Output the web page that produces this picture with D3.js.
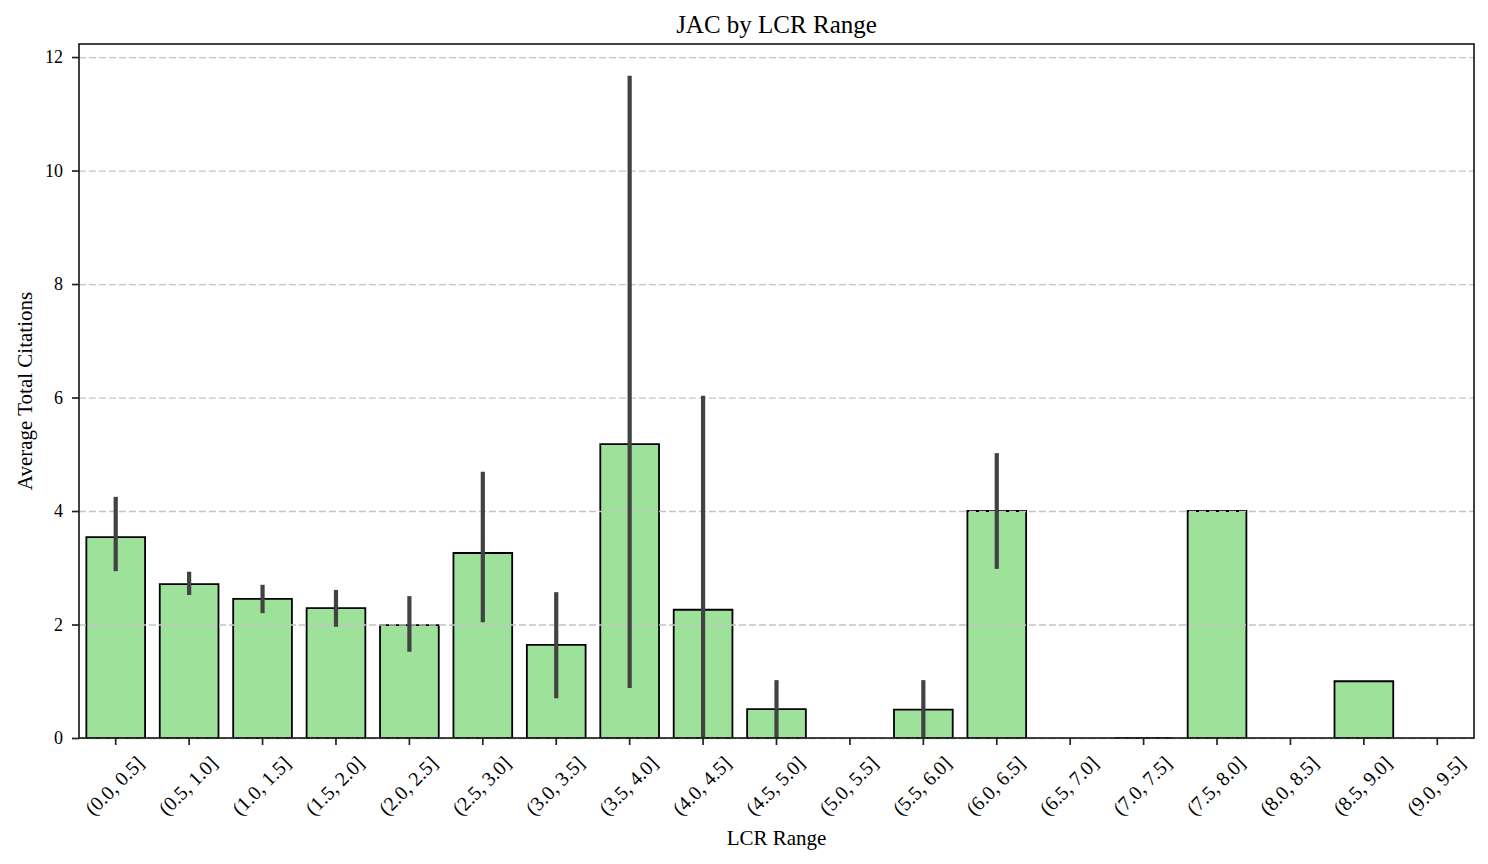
<!DOCTYPE html>
<html>
<head>
<meta charset="utf-8">
<script src="https://cdn.jsdelivr.net/npm/d3@7"></script>
<style>
body{margin:0;background:#fff}
text{font-family:'Liberation Serif','Times New Roman',serif;fill:#000}
</style>
</head>
<body>
<svg class="graph"></svg>
<script>
// data
let ranges=['(0.0, 0.5]','(0.5, 1.0]','(1.0, 1.5]','(1.5, 2.0]','(2.0, 2.5]','(2.5, 3.0]','(3.0, 3.5]','(3.5, 4.0]','(4.0, 4.5]','(4.5, 5.0]',
            '(5.0, 5.5]','(5.5, 6.0]','(6.0, 6.5]','(6.5, 7.0]','(7.0, 7.5]','(7.5, 8.0]','(8.0, 8.5]','(8.5, 9.0]','(9.0, 9.5]']
let means=[3.54,2.71,2.45,2.29,1.99,3.26,1.64,5.18,2.26,0.51,null,0.5,4.0,null,0,4.0,null,1.0,null]
let errLow=[2.94,2.52,2.20,1.96,1.52,2.04,0.70,0.88,0,0,null,0,2.98,null,null,null,null,null,null]
let errHigh=[4.25,2.93,2.70,2.61,2.50,4.69,2.57,11.67,6.03,1.02,null,1.02,5.02,null,null,null,null,null,null]
let yticks=[0,2,4,6,8,10,12]

let margin={top:44,left:79,right:14,bottom:126}
let W=1488,H=864
let width=W-margin.left-margin.right
let height=H-margin.top-margin.bottom
let svg=d3.select('.graph').attr('width',W).attr('height',H)
let g=svg.append('g').attr('transform',`translate(${margin.left},${margin.top})`)

let xscale=d3.scaleBand().domain(ranges).range([0,width]).paddingInner(0.2).paddingOuter(0.1)
let yscale=d3.scaleLinear().domain([0,12.23]).range([height,0])

let data=ranges.map((r,i)=>({range:r,mean:means[i],lo:errLow[i],hi:errHigh[i]}))

// bars as paths so a zero-height bar still shows its outline
g.selectAll('.bar')
 .data(data.filter(d=>d.mean!==null))
 .join('path')
 .attr('class','bar')
 .attr('d',d=>{
    let x0=xscale(d.range),x1=x0+xscale.bandwidth()
    let y0=yscale(0),y1=yscale(d.mean)
    return `M${x0},${y0}V${y1}H${x1}V${y0}Z`
 })
 .attr('fill','#9de19b')
 .attr('stroke','#000')
 .attr('stroke-width',1.8)

// dashed y gridlines
g.append('g')
 .call(d3.axisLeft(yscale).tickValues(yticks).tickSize(-width).tickFormat(''))
 .call(a=>a.select('.domain').remove())
 .selectAll('line')
 .attr('stroke','#c4c4c4').attr('stroke-width',1.3)
 .attr('stroke-dasharray','7,3')

// error bars
g.selectAll('.err')
 .data(data.filter(d=>d.hi!==null))
 .join('line')
 .attr('class','err')
 .attr('x1',d=>xscale(d.range)+xscale.bandwidth()/2)
 .attr('x2',d=>xscale(d.range)+xscale.bandwidth()/2)
 .attr('y1',d=>yscale(d.lo))
 .attr('y2',d=>yscale(d.hi))
 .attr('stroke','#424242')
 .attr('stroke-width',4.2)

// axes
let xaxis=g.append('g').attr('transform',`translate(0,${height})`)
 .call(d3.axisBottom(xscale).tickSize(7).tickSizeOuter(0))
xaxis.select('.domain').remove()
xaxis.selectAll('line').attr('stroke','#222').attr('stroke-width',1.7)
xaxis.selectAll('text')
 .style('font-size','20px')
 .attr('text-anchor','middle')
 .attr('dy','0.32em')
 .attr('y',0)
 .attr('transform','translate(-1,48) rotate(-45)')

let yaxis=g.append('g')
 .call(d3.axisLeft(yscale).tickValues(yticks).tickSize(7))
yaxis.select('.domain').remove()
yaxis.selectAll('line').attr('stroke','#222').attr('stroke-width',1.7)
yaxis.selectAll('text').style('font-size','18px').attr('x',-16)

// frame
g.append('rect')
 .attr('width',width).attr('height',height)
 .attr('fill','none').attr('stroke','#222').attr('stroke-width',1.7)

svg.append('text')
 .attr('x',margin.left+width/2).attr('y',33)
 .attr('text-anchor','middle')
 .style('font-size','25px')
 .text('JAC by LCR Range')

svg.append('text')
 .attr('x',margin.left+width/2).attr('y',845)
 .attr('text-anchor','middle')
 .style('font-size','21px')
 .text('LCR Range')

svg.append('text')
 .attr('transform',`translate(32,${margin.top+height/2}) rotate(-90)`)
 .attr('text-anchor','middle')
 .style('font-size','21px')
 .text('Average Total Citations')
</script>
</body>
</html>
